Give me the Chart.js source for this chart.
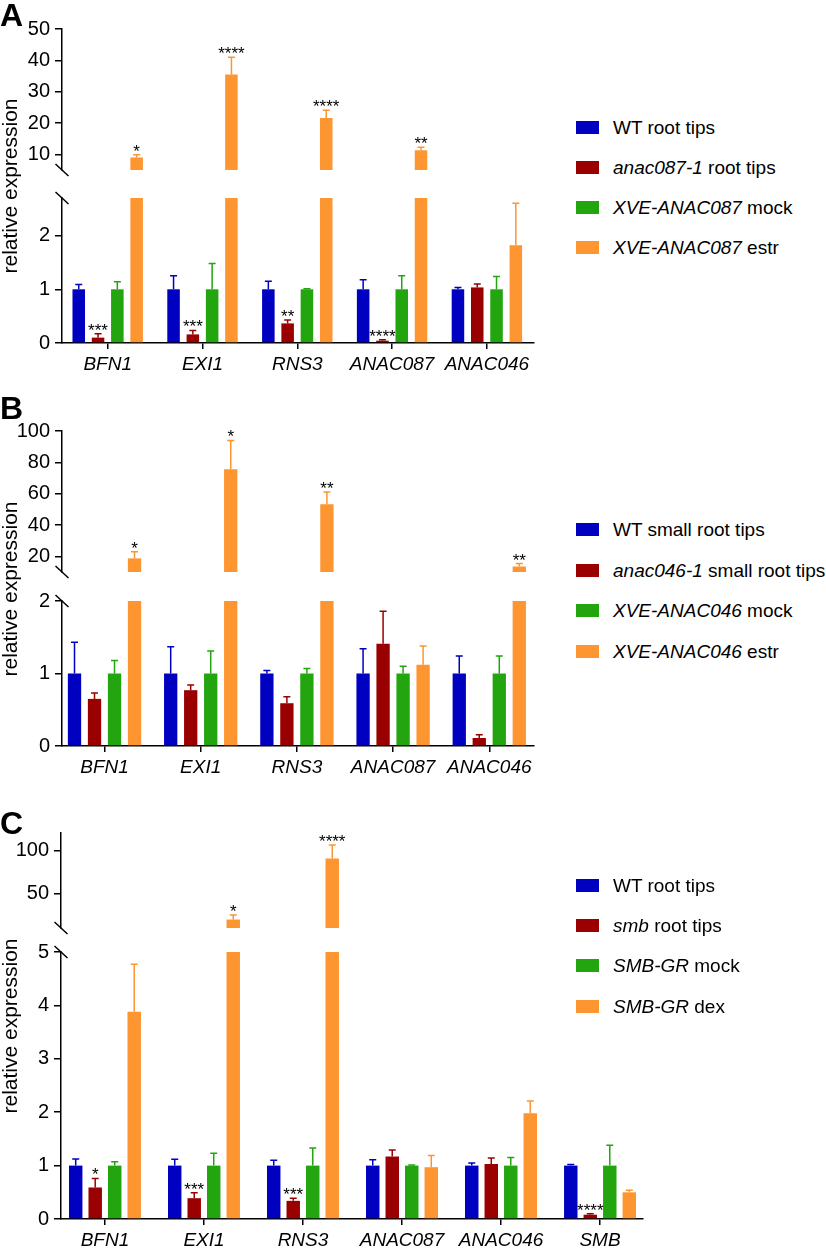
<!DOCTYPE html>
<html>
<head>
<meta charset="utf-8">
<script src="https://cdn.jsdelivr.net/npm/chart.js@4.4.1/dist/chart.umd.min.js"></script>
<style>
  body { margin: 0; background: #fff; }
  #page { position: relative; width: 826px; height: 1249px; overflow: hidden; font-family: "Liberation Sans", Arial, sans-serif; color: #000; }
  canvas { position: absolute; left: 0; }
  .letter { position: absolute; left: 0; font-weight: bold; font-size: 32px; line-height: 1; }
  .ytitle { position: absolute; font-size: 21px; line-height: 1; white-space: nowrap; transform: translate(-50%, -50%) rotate(-90deg); }
  .leg { position: absolute; left: 576px; }
  .sw { position: absolute; left: 0; width: 23px; height: 13px; }
  .lt { position: absolute; left: 37px; font-size: 19px; line-height: 1; white-space: nowrap; }
</style>
</head>
<body>
<div id="page"></div>
<script>
// colours of the four groups
const seriesColors = ["#0000c0", "#9a0000", "#22a50f", "#fd9531"];

// ---- panel A ----
const genesA = ["BFN1", "EXI1", "RNS3", "ANAC087", "ANAC046"];
const legendA = ["WT| root tips", "anac087-1| root tips", "XVE-ANAC087| mock", "XVE-ANAC087| estr"];
const wtA = [1, 1, 1, 1, 1];
const wtErrA = [0.09, 0.25, 0.15, 0.18, 0.035];
const mutA = [0.10, 0.16, 0.365, 0.043, 1.035];
const mutErrA = [0.07, 0.075, 0.065, 0.017, 0.065];
const mockA = [1, 1, 1, 1, 1];
const mockErrA = [0.14, 0.48, 0.01, 0.25, 0.24];
const estrA = [9.0, 35.5, 21.6, 11.3, 1.82];
const estrErrA = [0.9, 5.5, 2.5, 1.0, 0.78];
const mutStarsA = ["***", "***", "**", "****", ""];
const estrStarsA = ["*", "****", "****", "**", ""];
const upperTicksA = [10, 20, 30, 40, 50];
const lowerTicksA = [0, 1, 2];

// ---- panel B ----
const genesB = ["BFN1", "EXI1", "RNS3", "ANAC087", "ANAC046"];
const legendB = ["WT| small root tips", "anac046-1| small root tips", "XVE-ANAC046| mock", "XVE-ANAC046| estr"];
const wtB = [1, 1, 1, 1, 1];
const wtErrB = [0.43, 0.37, 0.04, 0.34, 0.24];
const mutB = [0.65, 0.77, 0.59, 1.41, 0.11];
const mutErrB = [0.08, 0.07, 0.09, 0.45, 0.045];
const mockB = [1, 1, 1, 1, 1];
const mockErrB = [0.18, 0.31, 0.07, 0.10, 0.24];
const estrB = [18.7, 75.6, 53.3, 1.12, 13.5];
const estrErrB = [4.3, 18.4, 7.7, 0.26, 1.9];
const estrStarsB = ["*", "*", "**", "", "**"];
const upperTicksB = [20, 40, 60, 80, 100];
const lowerTicksB = [0, 1, 2];

// ---- panel C ----
const genesC = ["BFN1", "EXI1", "RNS3", "ANAC087", "ANAC046", "SMB"];
const legendC = ["WT| root tips", "smb| root tips", "SMB-GR| mock", "SMB-GR| dex"];
const wtC = [1, 1, 1, 1, 1, 1];
const wtErrC = [0.125, 0.12, 0.1, 0.11, 0.05, 0.02];
const mutC = [0.59, 0.39, 0.34, 1.17, 1.03, 0.08];
const mutErrC = [0.17, 0.10, 0.05, 0.12, 0.11, 0.02];
const mockC = [1, 1, 1, 1, 1, 1];
const mockErrC = [0.07, 0.23, 0.33, 0.01, 0.15, 0.38];
const dexC = [3.88, 19.8, 90.6, 0.97, 1.98, 0.5];
const dexErrC = [0.89, 5.2, 15.4, 0.22, 0.23, 0.04];
const mutStarsC = ["*", "***", "***", "", "", "****"];
const dexStarsC = ["", "*", "****", "", "", ""];
const upperTicksC = [50, 100];
const lowerTicksC = [0, 1, 2, 3, 4, 5];

const FONT = '"Liberation Sans", Arial, sans-serif';
Chart.defaults.font.family = FONT;
Chart.defaults.color = "#000";

const none = (n) => new Array(n).fill("");

const panels = [
  {
    letterTop: -1, titleY: 186, legendY: [127, 167, 207, 247], legend: legendA,
    genes: genesA, width: 560, axisX: 62, right: 534, xMin: -0.482, xMax: 4.497, catPct: 0.814, barPct: 0.65,
    series: [
      { values: wtA, errors: wtErrA, stars: none(5) },
      { values: mutA, errors: mutErrA, stars: mutStarsA },
      { values: mockA, errors: mockErrA, stars: none(5) },
      { values: estrA, errors: estrErrA, stars: estrStarsA },
    ],
    parts: [
      { yTop: 29, yBottom: 172, min: 5, max: 50, ticks: upperTicksA, showX: false, breakAt: "bottom" },
      { yTop: 198, yBottom: 343, min: 0, max: 2.7, ticks: lowerTicksA, showX: true, breakAt: "top" },
    ],
  },
  {
    letterTop: 392, titleY: 589, legendY: [529, 570, 610, 651], legend: legendB,
    genes: genesB, width: 560, axisX: 62, right: 534, xMin: -0.442, xMax: 4.465, catPct: 0.832, barPct: 0.665,
    series: [
      { values: wtB, errors: wtErrB, stars: none(5) },
      { values: mutB, errors: mutErrB, stars: none(5) },
      { values: mockB, errors: mockErrB, stars: none(5) },
      { values: estrB, errors: estrErrB, stars: estrStarsB },
    ],
    parts: [
      { yTop: 431, yBottom: 574, min: 10, max: 100, ticks: upperTicksB, showX: false, breakAt: "bottom" },
      { yTop: 601, yBottom: 746, min: 0, max: 2, ticks: lowerTicksB, showX: true, breakAt: "top" },
    ],
  },
  {
    letterTop: 807, titleY: 1026, legendY: [885, 925, 965, 1006], legend: legendC,
    genes: genesC, width: 680, axisX: 61, right: 643, xMin: -0.444, xMax: 5.434, catPct: 0.788, barPct: 0.69,
    series: [
      { values: wtC, errors: wtErrC, stars: none(6) },
      { values: mutC, errors: mutErrC, stars: mutStarsC },
      { values: mockC, errors: mockErrC, stars: none(6) },
      { values: dexC, errors: dexErrC, stars: dexStarsC },
    ],
    parts: [
      { yTop: 833, yBottom: 930, min: 10, max: 120, ticks: upperTicksC, showX: false, breakAt: "bottom" },
      { yTop: 952, yBottom: 1219, min: 0, max: 5, ticks: lowerTicksC, showX: true, breakAt: "top" },
    ],
  },
];

const page = document.getElementById("page");

// error bars + significance stars, placed with the chart's own y scale
const errorBars = {
  id: "errorBars",
  afterDatasetsDraw(chart) {
    const { ctx, chartArea: a } = chart;
    const y = chart.scales.y;
    chart.data.datasets.forEach((ds, d) => {
      const meta = chart.getDatasetMeta(d);
      meta.data.forEach((bar, i) => {
        const v = ds.data[i].y;
        const e = ds.errors[i];
        const top = y.getPixelForValue(v + e);
        const base = y.getPixelForValue(v);
        ctx.save();
        ctx.beginPath();
        ctx.rect(a.left, a.top - 1, a.right - a.left, a.bottom - a.top + 1);
        ctx.clip();
        ctx.strokeStyle = ds.backgroundColor;
        ctx.lineWidth = 1.5;
        ctx.beginPath();
        ctx.moveTo(bar.x, base);
        ctx.lineTo(bar.x, top);
        ctx.moveTo(bar.x - 3.5, top);
        ctx.lineTo(bar.x + 3.5, top);
        ctx.stroke();
        ctx.restore();
        const s = ds.stars[i];
        if (s && v + e >= y.min && v + e <= y.max) {
          ctx.save();
          ctx.fillStyle = "#000";
          ctx.font = "17px " + FONT;
          ctx.textAlign = "center";
          ctx.textBaseline = "alphabetic";
          ctx.fillText(s, bar.x, top + 2);
          ctx.restore();
        }
      });
    });
  },
};

function makeBreak(at) {
  return {
    id: "axisBreak",
    afterDraw(chart) {
      const { ctx, chartArea: a } = chart;
      const yy = at === "top" ? a.top : a.bottom;
      ctx.save();
      ctx.strokeStyle = "#000";
      ctx.lineWidth = 1.5;
      ctx.beginPath();
      ctx.moveTo(a.left - 6.5, yy - 6);
      ctx.lineTo(a.left + 6.5, yy + 6);
      ctx.stroke();
      ctx.restore();
    },
  };
}

function drawPart(p, part) {
  const canvas = document.createElement("canvas");
  const top = part.yTop - 25;
  const xH = part.showX ? 45 : 0;
  const padB = part.showX ? 0 : 15;
  const h = part.yBottom - top + xH + padB;
  canvas.width = p.width;
  canvas.height = h;
  canvas.style.top = top + "px";
  canvas.style.width = p.width + "px";
  canvas.style.height = h + "px";
  page.appendChild(canvas);

  new Chart(canvas, {
    type: "bar",
    data: {
      datasets: p.series.map((s, k) => ({
        label: p.legend[k],
        data: s.values.map((v, i) => ({ x: i, y: v })),
        errors: s.errors,
        stars: s.stars,
        backgroundColor: seriesColors[k],
        borderWidth: 0,
        clip: 0,
        categoryPercentage: p.catPct,
        barPercentage: p.barPct,
      })),
    },
    options: {
      responsive: false,
      animation: false,
      devicePixelRatio: 1,
      layout: { padding: { top: 25, bottom: padB, left: 0, right: p.width - p.right } },
      plugins: { legend: { display: false }, tooltip: { enabled: false } },
      scales: {
        x: {
          type: "linear",
          min: p.xMin,
          max: p.xMax,
          offset: false,
          display: part.showX,
          afterBuildTicks: (sc) => { sc.ticks = p.genes.map((g, i) => ({ value: i })); },
          afterFit: (sc) => { sc.height = xH; },
          ticks: {
            callback: (v, i) => p.genes[i],
            autoSkip: false,
            maxRotation: 0,
            padding: 4,
            color: "#000",
            font: { size: 19, style: "italic" },
          },
          grid: { offset: false, drawOnChartArea: false, tickLength: 6, color: "#000", lineWidth: 1.5 },
          border: { color: "#000", width: 1.5 },
        },
        y: {
          min: part.min,
          max: part.max,
          afterBuildTicks: (sc) => { sc.ticks = part.ticks.map((v) => ({ value: v })); },
          afterFit: (sc) => { sc.width = p.axisX; },
          ticks: { autoSkip: false, padding: 5, color: "#000", font: { size: 20 } },
          grid: { drawOnChartArea: false, tickLength: 7, color: "#000", lineWidth: 1.5 },
          border: { color: "#000", width: 1.5 },
        },
      },
    },
    plugins: [errorBars, makeBreak(part.breakAt)],
  });
}

function html(tag, cls, style, inner) {
  const n = document.createElement(tag);
  n.className = cls;
  Object.assign(n.style, style);
  if (inner !== undefined) n.innerHTML = inner;
  page.appendChild(n);
  return n;
}

panels.forEach((p, idx) => {
  p.parts.forEach((part) => drawPart(p, part));

  html("div", "letter", { top: p.letterTop + "px" }, "ABC"[idx]);
  html("div", "ytitle", { left: "8.7px", top: p.titleY + "px" }, "relative expression");

  p.legend.forEach((txt, k) => {
    const [it, rest] = txt.split("|");
    const row = html("div", "leg", { top: p.legendY[k] + "px" });
    const sw = document.createElement("div");
    sw.className = "sw";
    sw.style.top = "-6.5px";
    sw.style.background = seriesColors[k];
    row.appendChild(sw);
    const t = document.createElement("div");
    t.className = "lt";
    t.style.top = "-9.3px";
    t.innerHTML = (it === "WT" ? "WT" : "<i>" + it + "</i>") + rest;
    row.appendChild(t);
  });
});
</script>
</body>
</html>
